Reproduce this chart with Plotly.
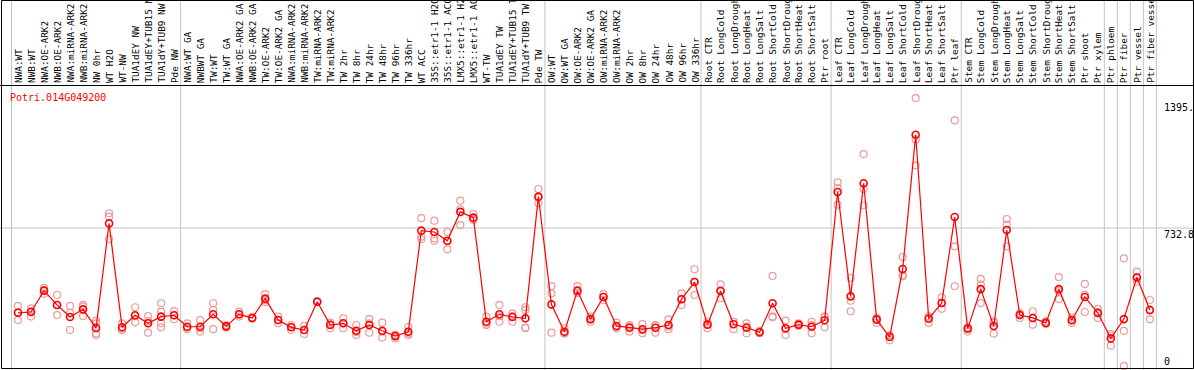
import plotly.graph_objects as go

gene = "Potri.014G049200"

labels = [
    "NWA:WT", "NWB:WT", "NWA:OE-ARK2", "NWB:OE-ARK2", "NWA:miRNA-ARK2", "NWB:miRNA-ARK2",
    "NW 0hr", "WT H2O", "WT-NW", "TUA1dEY NW", "TUA1dEY+TUB15 NW", "TUA1dY+TUB9 NW", "Pde NW",
    "NWA:WT GA", "NWBWT GA", "TW:WT", "TW:WT GA", "NWA:OE-ARK2 GA", "NWB:OE-ARK2 GA",
    "TW:OE-ARK2", "TW:OE-ARK2 GA", "NWA:miRNA-ARK2", "NWB:miRNA-ARK2", "TW:miRNA-ARK2",
    "TW:miRNA-ARK2", "TW 2hr", "TW 8hr", "TW 24hr", "TW 48hr", "TW 96hr", "TW 336hr",
    "WT ACC", "35S::etr1-1 H2O", "35S::etr1-1 ACC", "LMX5::etr1-1 H2O", "LMX5::etr1-1 ACC",
    "WT-TW", "TUA1dEY TW", "TUA1dEY+TUB15 TW", "TUA1dY+TUB9 TW", "Pde TW",
    "OW:WT", "OW:WT GA", "OW:OE-ARK2", "OW:OE-ARK2 GA", "OW:miRNA-ARK2", "OW:miRNA-ARK2",
    "OW 2hr", "OW 8hr", "OW 24hr", "OW 48hr", "OW 96hr", "OW 336hr",
    "Root CTR", "Root LongCold", "Root LongDrought", "Root LongHeat", "Root LongSalt",
    "Root ShortCold", "Root ShortDrought", "Root ShortHeat", "Root ShortSalt", "Ptr root",
    "Leaf CTR", "Leaf LongCold", "Leaf LongDrought", "Leaf LongHeat", "Leaf LongSalt",
    "Leaf ShortCold", "Leaf ShortDrought", "Leaf ShortHeat", "Leaf ShortSalt", "Ptr leaf",
    "Stem CTR", "Stem LongCold", "Stem LongDrought", "Stem LongHeat", "Stem LongSalt",
    "Stem ShortCold", "Stem ShortDrought", "Stem ShortHeat", "Stem ShortSalt", "Ptr shoot",
    "Ptr xylem", "Ptr phloem", "Ptr fiber", "Ptr vessel", "Ptr fiber vessel",
]

group_sizes = [13, 28, 12, 10, 10, 11, 1, 1, 1, 1]

means = [
    289, 293, 405, 330, 267, 307, 209, 757, 213, 276, 234, 269, 276,
    216, 216, 281, 218, 281, 262, 363, 251, 213, 199, 347, 225, 234, 195, 225,
    195, 167, 190, 719, 712, 666, 817, 787, 242, 281, 267, 260, 897,
    333, 190, 405, 256, 372, 220, 211, 203, 211, 225, 360, 450,
    227, 403, 229, 211, 187, 339, 208, 227, 216, 250,
    921, 375, 967, 253, 162, 518, 1221, 258, 340, 790,
    206, 413, 220, 722, 277, 262, 236, 413, 250, 372, 288,
    155, 256, 475, 304,
]

replicates = [
    [325, 251, 292], [312, 269, 298], [419, 408, 388], [382, 277, 331], [325, 199, 289],
    [330, 272, 321], [248, 182, 173, 234], [810, 792, 674], [234, 199, 206], [318, 239, 271],
    [272, 185, 245], [339, 295, 234, 213], [298, 255, 276],
    [234, 203, 211], [251, 190, 207], [339, 304, 203], [225, 218, 211], [295, 269, 279],
    [262, 258, 266], [387, 356, 346], [269, 234, 250], [225, 199, 215], [220, 178, 199],
    [350, 345, 346], [237, 208, 230], [260, 208, 234], [225, 173, 188], [256, 185, 234],
    [237, 159, 190], [173, 155, 173], [216, 173, 181], [784, 687, 674], [771, 679, 666],
    [713, 621, 664], [876, 831, 748], [806, 775, 780], [269, 225, 232], [330, 242, 271],
    [286, 242, 273], [318, 304, 208, 212], [937, 862, 892],
    [429, 391, 185], [208, 182, 180], [429, 394, 392], [269, 242, 257], [387, 373, 356],
    [237, 208, 215], [225, 190, 218], [230, 182, 197], [225, 185, 223], [255, 203, 217],
    [391, 330, 359], [517, 382, 451],
    [242, 208, 231], [438, 365, 406], [242, 203, 242], [234, 182, 217], [194, 185, 182],
    [482, 265, 270], [248, 173, 203], [234, 220, 227], [242, 182, 224], [271, 213, 266],
    [972, 942, 855], [471, 352, 297], [1120, 937, 852], [236, 262, 261], [145, 170, 171],
    [581, 485, 480], [1413, 1195, 1061], [236, 270, 268], [370, 310, 340], [1296, 637, 428],
    [192, 213, 213], [466, 436, 340], [244, 180, 236], [780, 750, 637], [262, 283, 286],
    [297, 227, 262], [244, 232, 232], [476, 361, 402], [262, 236, 252], [440, 293, 383],
    [310, 262, 292],
    [178, 117, 170], [574, 194, 10], [504, 452, 469], [356, 255, 301],
]

axis_max_label = "1395."
axis_mid_value = 732.8
axis_mid_label = "732.8"
axis_max_value = 1395

W, H = 1194, 370
x0_px, dx_px = 18.0, 13.01
y0_px, y_per_px = 368.0, 732.8 / 140.0

xs = list(range(len(labels)))
rep_x, rep_y = [], []
for i, reps in enumerate(replicates):
    for v in reps:
        rep_x.append(i)
        rep_y.append(v)

x_range = [(-x0_px) / dx_px, (W - x0_px) / dx_px]
y_range = [-(H - y0_px) * y_per_px, y0_px * y_per_px]

def py(px):
    return 1 - px / H

def pxx(px):
    return px / W

fig = go.Figure()
fig.add_trace(go.Scatter(
    x=rep_x, y=rep_y, mode="markers",
    marker=dict(symbol="circle-open", size=7, color="#ec9a9a", line=dict(width=1.2)),
    hoverinfo="skip", showlegend=False,
))
fig.add_trace(go.Scatter(
    x=xs, y=means, mode="lines+markers",
    line=dict(color="#ff0000", width=1.2),
    marker=dict(symbol="circle-open", size=7, color="#ff0000", line=dict(width=1.6)),
    showlegend=False,
))

shapes = []
b = -0.5
bounds = [b]
for g in group_sizes:
    b += g
    bounds.append(b)
for bx in bounds:
    shapes.append(dict(type="line", xref="x", yref="paper", x0=bx, x1=bx, y0=0, y1=1,
                       line=dict(color="#c4c4c4", width=1), layer="below"))
shapes.append(dict(type="line", xref="paper", yref="y", x0=0, x1=1, y0=axis_mid_value,
                   y1=axis_mid_value, line=dict(color="#c4c4c4", width=1), layer="below"))
shapes.append(dict(type="line", xref="paper", yref="paper", x0=0, x1=1, y0=py(85.5), y1=py(85.5),
                   line=dict(color="black", width=1)))
shapes.append(dict(type="rect", xref="paper", yref="paper", x0=pxx(1.5), x1=pxx(1193.5),
                   y0=py(368.5), y1=py(0.5), line=dict(color="black", width=1)))

annotations = []
for i, lab in enumerate(labels):
    annotations.append(dict(
        x=i, y=py(84), xref="x", yref="paper", text=lab, showarrow=False,
        textangle=-90, xanchor="center", yanchor="bottom", borderpad=0,
        font=dict(family="DejaVu Sans Mono", size=9.4, color="black"),
    ))
annotations.append(dict(x=pxx(9), y=py(97), xref="paper", yref="paper", text=gene,
                        showarrow=False, xanchor="left", yanchor="middle", borderpad=0,
                        font=dict(family="DejaVu Sans Mono", size=10, color="#ff0000")))
for val, txt in [(axis_max_value, axis_max_label), (axis_mid_value, axis_mid_label)]:
    annotations.append(dict(x=pxx(1163), y=val, xref="paper", yref="y", text=txt,
                            showarrow=False, xanchor="left", yanchor="top", borderpad=0,
                            font=dict(family="DejaVu Sans Mono", size=10, color="black")))
annotations.append(dict(x=pxx(1163), y=py(368), xref="paper", yref="paper", text="0",
                        showarrow=False, xanchor="left", yanchor="bottom", borderpad=0,
                        font=dict(family="DejaVu Sans Mono", size=10, color="black")))

fig.update_layout(
    width=W, height=H, margin=dict(l=0, r=0, t=0, b=0, pad=0),
    paper_bgcolor="white", plot_bgcolor="white",
    xaxis=dict(range=x_range, visible=False, fixedrange=True),
    yaxis=dict(range=y_range, visible=False, fixedrange=True),
    shapes=shapes, annotations=annotations,
)
fig.write_html(
    "out.html",
    config={"displayModeBar": False},
    post_script="document.body.style.margin='0';document.body.style.padding='0';",
)
